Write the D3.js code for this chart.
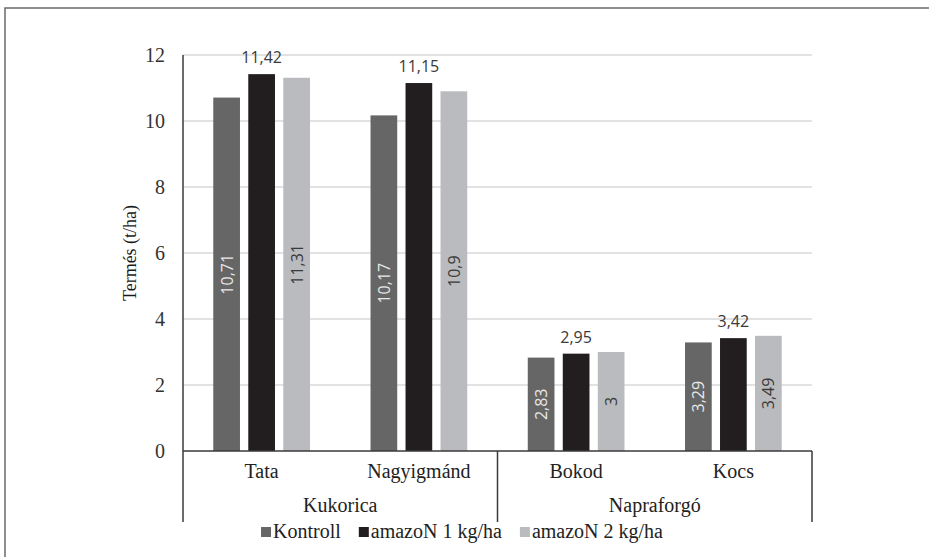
<!DOCTYPE html>
<html>
<head>
<meta charset="utf-8">
<script src="https://cdn.jsdelivr.net/npm/d3@7"></script>
</head>
<body style="margin:0">
<script>
// ---- data ----
const categories = ["Tata", "Nagyigmánd", "Bokod", "Kocs"];
const categoryGroup = ["Kukorica", "Kukorica", "Napraforgó", "Napraforgó"];
const groups = ["Kukorica", "Napraforgó"];
const seriesNames = ["Kontroll", "amazoN 1 kg/ha", "amazoN 2 kg/ha"];
const kontroll = [10.71, 10.17, 2.83, 3.29];
const amazon1 = [11.42, 11.15, 2.95, 3.42];
const amazon2 = [11.31, 10.9, 3, 3.49];
const yTicks = [0, 2, 4, 6, 8, 10, 12];
const yTitle = "Termés (t/ha)";

const seriesValues = [kontroll, amazon1, amazon2];
const seriesColors = ["#666666", "#221e1f", "#babbbe"];
const labelMode = ["inside", "top", "inside"];
const labelColors = ["#e8e8e8", "#3a3a3a", "#3a3a3a"];

const SERIF = '"Liberation Serif", Tinos';
const SANS = '"Open Sans"';

const W = 929, H = 557;
const svg = d3.select("body").append("svg").attr("width", W).attr("height", H).style("display", "block");

// outer border
svg.append("rect").attr("x", 5).attr("y", 8).attr("width", 940).attr("height", 580)
  .attr("fill", "none").attr("stroke", "#6a6a6a").attr("stroke-width", 1.5);

const plotL = 183, plotR = 812, plotT = 55, plotB = 451, axisBottom = 522;

const y = d3.scaleLinear().domain([0, 12]).range([plotB, plotT]);
const x0 = d3.scaleBand().domain(categories).range([plotL, plotR]);
const bw = x0.bandwidth();
const x1 = d3.scaleBand().domain(seriesNames).range([bw * 0.1925, bw * 0.8075]).paddingInner(0.237);

// gridlines
svg.append("g").selectAll("line").data(yTicks.filter(t => t > 0)).join("line")
  .attr("x1", plotL).attr("x2", plotR)
  .attr("y1", d => y(d)).attr("y2", d => y(d))
  .attr("stroke", "#d9d9d9").attr("stroke-width", 1.5);

// y axis labels
const yAxis = d3.axisLeft(y).tickValues(yTicks).tickSize(0).tickPadding(18).tickFormat(d => d);
const gy = svg.append("g").attr("transform", `translate(${plotL},0)`).call(yAxis);
gy.select(".domain").remove();
gy.attr("font-family", SERIF).attr("font-size", 20);
gy.selectAll("text").style("font-family", SERIF).attr("font-size", 20).attr("fill", "#333");

// y title
svg.append("text").style("font-family", SERIF).attr("font-size", 18)
  .attr("transform", `translate(136,${(plotT + plotB) / 2}) rotate(-90)`)
  .attr("text-anchor", "middle").attr("fill", "#1a1a1a")
  .text(yTitle);

// bars
const data = categories.map((c, i) => ({ c, vals: seriesValues.map((s, j) => ({ s: seriesNames[j], j, v: s[i] })) }));
const gCat = svg.append("g").selectAll("g").data(data).join("g")
  .attr("transform", d => `translate(${x0(d.c)},0)`);

gCat.selectAll("rect").data(d => d.vals).join("rect")
  .attr("x", d => x1(d.s)).attr("width", x1.bandwidth())
  .attr("y", d => y(d.v)).attr("height", d => y(0) - y(d.v))
  .attr("fill", d => seriesColors[d.j]);

const fmt = v => String(v).replace(".", ",");
gCat.selectAll("text.lbl").data(d => d.vals).join("text")
  .attr("class", "lbl")
  .style("font-family", SANS).attr("font-size", 16)
  .attr("fill", d => labelColors[d.j])
  .attr("text-anchor", "middle")
  .attr("transform", d => {
    const cx = x1(d.s) + x1.bandwidth() / 2;
    if (labelMode[d.j] === "top") return `translate(${cx},${y(d.v) - 11})`;
    const cy = (y(d.v) + y(0)) / 2;
    return `translate(${cx + 6},${cy}) rotate(-90)`;
  })
  .text(d => fmt(d.v));

// category axis
const axisG = svg.append("g").attr("stroke", "#3a3a3a").attr("stroke-width", 1.5);
axisG.append("line").attr("x1", plotL).attr("x2", plotR).attr("y1", plotB).attr("y2", plotB);
axisG.append("line").attr("x1", plotL).attr("x2", plotL).attr("y1", plotT).attr("y2", axisBottom);
const boundaries = [plotL, x0(categories[categoryGroup.indexOf(groups[1])]), plotR];
axisG.selectAll("line.sep").data(boundaries.slice(1)).join("line").attr("class", "sep")
  .attr("x1", d => d).attr("x2", d => d).attr("y1", plotB).attr("y2", axisBottom);

svg.append("g").selectAll("text").data(categories).join("text")
  .style("font-family", SERIF).attr("font-size", 20)
  .attr("x", d => x0(d) + bw / 2).attr("y", 478)
  .attr("text-anchor", "middle").attr("fill", "#222")
  .text(d => d);

svg.append("g").selectAll("text").data(groups).join("text")
  .style("font-family", SERIF).attr("font-size", 20)
  .attr("x", (g, i) => (boundaries[i] + boundaries[i + 1]) / 2).attr("y", 512)
  .attr("text-anchor", "middle").attr("fill", "#222")
  .text(d => d);

// legend
const leg = svg.append("g");
let lx = 0;
seriesNames.forEach((s, i) => {
  const g = leg.append("g").attr("transform", `translate(${lx},0)`);
  g.append("rect").attr("x", 0).attr("y", -11).attr("width", 10).attr("height", 10).attr("fill", seriesColors[i]);
  const t = g.append("text").style("font-family", SERIF).attr("font-size", 20)
    .attr("x", 12).attr("y", 0).attr("fill", "#222").text(s);
  lx += 12 + t.node().getComputedTextLength() + 18;
});
const legW = lx - 18;
leg.attr("transform", `translate(${462 - legW / 2},538)`);
</script>
</body>
</html>
